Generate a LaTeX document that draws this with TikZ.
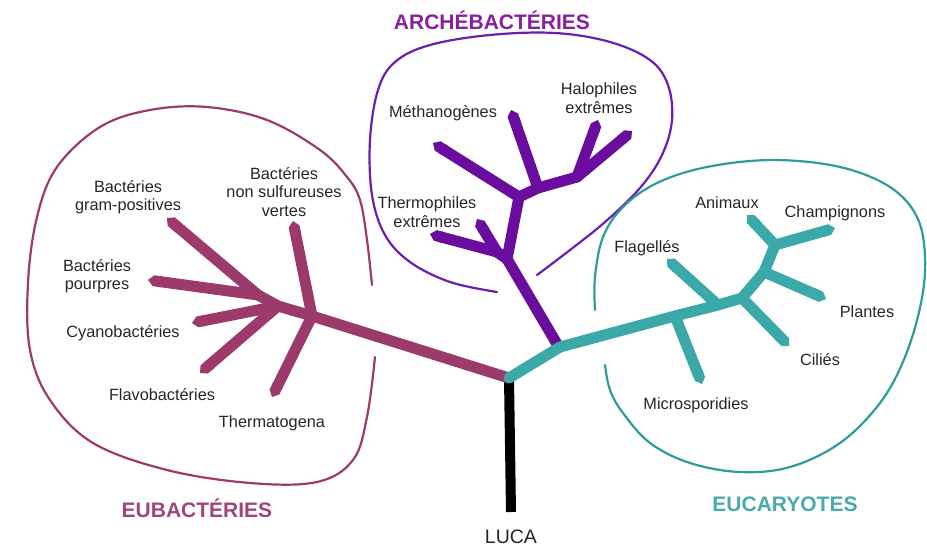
\documentclass[tikz,border=0pt]{standalone}
\usepackage{fontspec}
\setmainfont{Liberation Sans}
\usetikzlibrary{arrows.meta}
\definecolor{eubac}{HTML}{9C3A6C}
\definecolor{eubactxt}{HTML}{A0457A}
\definecolor{archae}{HTML}{6A0C9E}
\definecolor{archaeline}{HTML}{6A1FB0}
\definecolor{archaetxt}{HTML}{8A1F9E}
\definecolor{eucar}{HTML}{3AA9A7}
\definecolor{eucarline}{HTML}{2F9C99}
\definecolor{eucartxt}{HTML}{4AAAA9}

\begin{document}
\begin{tikzpicture}[x=1pt, y=-1pt,
  br/.style={line width=11pt, line cap=round, line join=round},
  tip/.style={br, -{Triangle Cap[]}},
  ring/.style={line width=2.2pt, line cap=round},
  lab/.style={font=\fontsize{16.3}{18.5}\selectfont, align=center, text=black!85},
  grp/.style={font=\fontsize{21}{24}\selectfont\bfseries}]
\useasboundingbox (0,0) rectangle (927,546);

% junctions and tips
\coordinate (R) at (509,378); \coordinate (Lb) at (511,512);
\coordinate (E1) at (312,316); \coordinate (E2) at (278,306); \coordinate (E3) at (258,295);
\coordinate (tGram) at (167,218); \coordinate (tPour) at (148,280); \coordinate (tCyan) at (192,323);
\coordinate (tFlav) at (200,373); \coordinate (tTherm) at (272,397); \coordinate (tNsv) at (293,221);
\coordinate (A0) at (557,344); \coordinate (A1) at (507,259); \coordinate (A3) at (497,252);
\coordinate (A2) at (519,197); \coordinate (A4) at (538,188); \coordinate (A5) at (577,177);
\coordinate (tTh1) at (430,234); \coordinate (tTh2) at (477,219); \coordinate (tMet) at (511,110);
\coordinate (tArc) at (433,143); \coordinate (tHal1) at (598,120); \coordinate (tHal2) at (632,131);
\coordinate (K1) at (560,347); \coordinate (K4) at (675,316); \coordinate (K3) at (718,305);
\coordinate (K2) at (742,298); \coordinate (K6) at (764,272); \coordinate (K7) at (775,245);
\coordinate (tMic) at (702,384); \coordinate (tFla) at (667,259); \coordinate (tCil) at (789,346);
\coordinate (tPla) at (826,299); \coordinate (tAni) at (747,215); \coordinate (tCha) at (835,228);

% contours
\draw[ring, eubac] plot[smooth, tension=0.6] coordinates {(372,285) (367,240) (360,200) (347,177) (320,150) (267,120) (207,107) (150,110) (100,127) (57,167) (37,217) (28,283) (30,350) (50,400) (93,443) (167,470) (250,483) (317,482) (353,460) (367,417) (375,357)};
\draw[ring, archaeline] plot[smooth, tension=0.6] coordinates {(537,275) (570,250) (605,222) (640,188) (662,155) (672,120) (668,85) (650,60) (610,42) (555,33) (490,35) (430,45) (395,62) (378,90) (370,140) (372,195) (385,235) (410,262) (450,282) (497,292)};
\draw[ring, eucarline] plot[smooth, tension=0.6] coordinates {(595,310) (595,277) (603,237) (623,207) (657,183) (707,167) (773,160) (840,167) (890,187) (917,217) (925,257) (921,303) (905,357) (880,403) (840,443) (790,467) (740,472) (690,463) (650,443) (623,413) (610,390) (605,365)};

% LUCA
\draw[line width=10pt] (R) -- (Lb);

% eubacteria
\draw[br, eubac] (R) -- (E1) -- (E2) -- (E3);
\draw[tip, eubac] (E1) -- (tNsv);
\draw[tip, eubac] (E1) -- (tTherm);
\draw[tip, eubac] (E3) -- (tGram);
\draw[tip, eubac] (E3) -- (tPour);
\draw[tip, eubac] (E2) -- (tCyan);
\draw[tip, eubac] (E2) -- (tFlav);

% archaea
\draw[br, archae] (A0) -- (A1) -- (A2) -- (A4) -- (A5);
\draw[br, archae] (A1) -- (A3);
\draw[tip, archae] (A3) -- (tTh1);
\draw[tip, archae] (A3) -- (tTh2);
\draw[tip, archae] (A2) -- (tArc);
\draw[tip, archae] (A4) -- (tMet);
\draw[tip, archae] (A5) -- (tHal1);
\draw[tip, archae] (A5) -- (tHal2);

% eukaryotes
\draw[br, eucar] (R) -- (K1) -- (K4) -- (K3) -- (K2) -- (K6) -- (K7);
\draw[tip, eucar] (K4) -- (tMic);
\draw[tip, eucar] (K3) -- (tFla);
\draw[tip, eucar] (K2) -- (tCil);
\draw[tip, eucar] (K6) -- (tPla);
\draw[tip, eucar] (K7) -- (tAni);
\draw[tip, eucar] (K7) -- (tCha);

% labels
\node[lab] (gram) at (128,197) {Bactéries\\gram-positives};
\node[lab] (nsv) at (284,192) {Bactéries\\non sulfureuses\\vertes};
\node[lab] (pour) at (97,276) {Bactéries\\pourpres};
\node[lab] (cyan) at (123,333) {Cyanobactéries};
\node[lab] (flav) at (162,395) {Flavobactéries};
\node[lab] (therm) at (272,423) {Thermatogena};
\node[lab] (met) at (443,113) {Méthanogènes};
\node[lab] (hal) at (599,98) {Halophiles\\extrêmes};
\node[lab] (thp) at (427,212) {Thermophiles\\extrêmes};
\node[lab] (ani) at (727,203) {Animaux};
\node[lab] (cha) at (835,213) {Champignons};
\node[lab] (fla) at (647,248) {Flagellés};
\node[lab] (pla) at (867,312) {Plantes};
\node[lab] (cil) at (820,360) {Ciliés};
\node[lab] (mic) at (696,405) {Microsporidies};
\node[lab, font=\fontsize{19.5}{22}\selectfont] (luca) at (511,537) {LUCA};
\node[grp, text=eubactxt] (eub) at (197,508) {EUBACTÉRIES};
\node[grp, text=archaetxt] (arc) at (492,20) {ARCHÉBACTÉRIES};
\node[grp, text=eucartxt] (euc) at (785,504) {EUCARYOTES};
\end{tikzpicture}
\end{document}
